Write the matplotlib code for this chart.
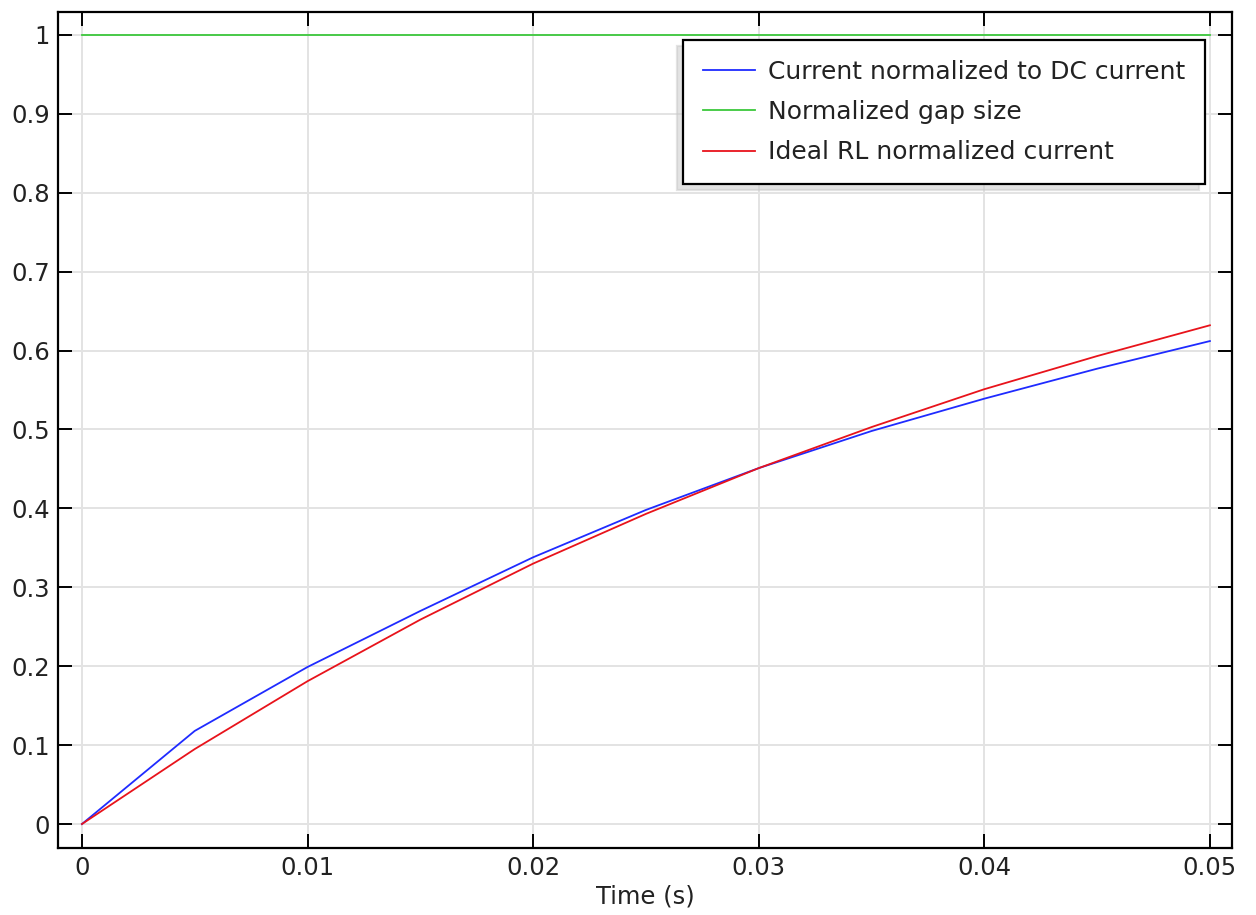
import numpy as np
import matplotlib
matplotlib.use("Agg")
import matplotlib.pyplot as plt

# time samples (s)
t = [0, 0.005, 0.01, 0.015, 0.02, 0.025, 0.03, 0.035, 0.04, 0.045, 0.05]
# values
current_norm = [0, 0.118, 0.199, 0.270, 0.338, 0.398, 0.451, 0.498, 0.539, 0.577, 0.612]
gap_norm = [1, 1, 1, 1, 1, 1, 1, 1, 1, 1, 1]
ideal_rl = [0, 0.095, 0.181, 0.259, 0.330, 0.393, 0.451, 0.503, 0.551, 0.593, 0.632]

labels = ["Current normalized to DC current", "Normalized gap size", "Ideal RL normalized current"]
colors = ["#1f2bff", "#3cc83c", "#e8131b"]

fs = 17.5
fig = plt.figure(figsize=(12.56, 9.15), dpi=100)
ax = fig.add_axes([0.0462, 0.0732, 0.9347, 0.9137])

for y, lab, c in zip([current_norm, gap_norm, ideal_rl], labels, colors):
    ax.plot(t, y, color=c, lw=1.3, label=lab)

ax.set_xlim(-0.00106, 0.05098)
ax.set_ylim(-0.0304, 1.029)
ax.set_xticks([0, 0.01, 0.02, 0.03, 0.04, 0.05])
ax.set_xticklabels(["0", "0.01", "0.02", "0.03", "0.04", "0.05"])
ax.set_yticks(np.arange(11) / 10)
ax.set_yticklabels(["0"] + [f"0.{i}" for i in range(1, 10)] + ["1"])

ax.grid(True, color="#e3e3e3", lw=1.4)
ax.set_axisbelow(True)
ax.tick_params(direction="in", length=10, width=1.4, labelsize=fs, top=True, right=True,
               colors="black", labelcolor="#222222", pad=6)
for s in ax.spines.values():
    s.set_linewidth(1.6)

ax.set_xlabel("Time (s)", fontsize=fs, color="#222222", labelpad=3)

leg = ax.legend(loc="upper right", bbox_to_anchor=(0.977, 0.9665), borderaxespad=0,
                fontsize=18, fancybox=False, framealpha=1, edgecolor="black",
                handlelength=2.1, handletextpad=0.5, borderpad=0.8, labelspacing=0.65,
                shadow={"ox": -4, "oy": -4, "color": "#c8c8c8"})
leg.get_frame().set_linewidth(1.6)
for txt in leg.get_texts():
    txt.set_color("#222222")

fig.savefig("out.png", dpi=100)
